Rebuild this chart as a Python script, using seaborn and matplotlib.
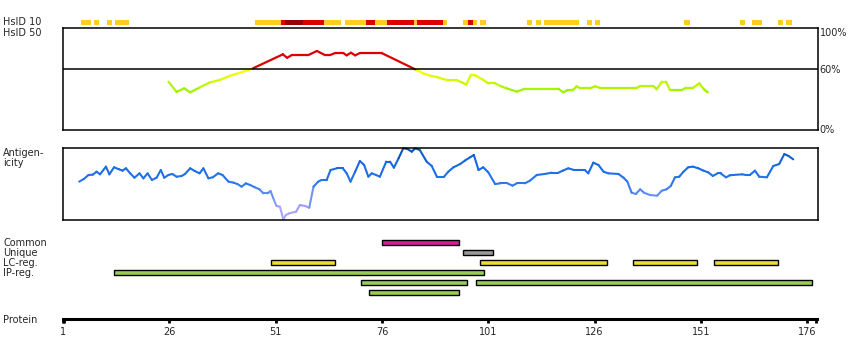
import numpy as np
import pandas as pd
import matplotlib
matplotlib.use('Agg')
import matplotlib.pyplot as plt
from matplotlib.colors import LinearSegmentedColormap, to_hex
import seaborn as sns

sns.set_style('white')
plt.rcParams['font.family'] = ['DejaVu Sans']

W, H = 850, 360

# HsID 10 track (residue ranges and level)
hs_start = [5.2, 8.3, 11.4, 13.2, 46.1, 52.3, 53.2, 57.4, 62.4, 67.3, 72.3, 74.4, 77.2,
            83.5, 84.2, 90.4, 95.1, 96.2, 97.4, 99.1, 110.1, 112.2, 114.1, 124.2, 126.1,
            147.0, 160.2, 163.0, 169.1, 171.0]
hs_end = [7.6, 9.5, 12.5, 16.5, 52.3, 53.2, 57.4, 62.4, 66.4, 72.3, 74.4, 77.2, 83.5,
          84.2, 90.4, 91.3, 96.2, 97.4, 98.3, 100.5, 111.3, 113.4, 122.3, 125.4, 127.3,
          148.4, 161.4, 165.4, 170.3, 172.4]
hs_level = ['o', 'o', 'o', 'o', 'o', 'r', 'd', 'r', 'o', 'o', 'r', 'o', 'r',
            'o', 'r', 'o', 'o', 'r', 'o', 'o', 'o', 'o', 'o', 'o', 'o',
            'o', 'o', 'o', 'o', 'o']

# HsID 50 identity curve (%)
id_pos = [25.8, 27.7, 29.5, 30.9, 33.2, 35.6, 37.9, 40.3, 42.6, 44.6, 45.7, 52.7, 53.7,
          54.8, 58.7, 60.7, 62.6, 63.8, 65.0, 66.9, 67.7, 68.7, 69.7, 70.8, 75.9, 83.8,
          85.7, 87.3, 88.9, 90.4, 91.6, 93.6, 94.8, 95.8, 96.9, 97.9, 99.5, 101.0, 102.6,
          103.8, 105.3, 107.7, 109.6, 117.5, 118.6, 119.6, 120.8, 121.8, 122.6, 124.9,
          126.1, 127.3, 135.9, 136.7, 139.8, 140.6, 141.8, 142.8, 143.7, 146.5, 147.5,
          149.2, 150.6, 151.7, 152.6]
id_val = [47.5, 37.4, 41.0, 37.0, 42.0, 46.9, 49.2, 53.4, 56.3, 59.0, 60.7, 74.4, 71.0,
          73.7, 73.7, 77.7, 73.7, 73.7, 75.7, 75.7, 73.4, 76.0, 73.4, 75.7, 75.7, 59.7,
          55.7, 53.4, 52.1, 50.1, 48.9, 48.9, 46.9, 44.5, 54.1, 53.8, 50.1, 45.9, 45.9,
          43.3, 41.0, 37.7, 40.6, 40.6, 37.0, 39.0, 39.0, 43.0, 41.0, 41.0,
          43.0, 41.3, 41.3, 43.3, 43.3, 40.0, 47.5, 47.5, 39.3, 39.3, 41.6,
          41.6, 45.9, 40.0, 37.0]

# antigenicity (relative, 0..1)
ag_pos = [4.8, 5.9, 7.0, 8.0, 8.9, 9.7, 11.1, 11.9, 13.0, 14.2, 15.0, 15.8, 16.8, 17.8,
          19.0, 19.9, 20.9, 21.9, 23.0, 24.0, 24.8, 25.8, 26.7, 27.7, 28.9, 29.7, 30.9,
          32.0, 33.1, 34.0, 35.2, 36.2, 37.5, 38.5, 39.9, 41.1, 42.0, 43.0, 44.0, 45.0,
          46.1, 47.2, 48.1, 49.1, 49.8, 50.6, 51.2, 52.0, 52.8, 53.4, 54.2, 55.8, 56.7,
          57.9, 58.9, 59.9, 61.0, 61.8, 63.0, 63.9, 65.4, 66.8, 67.7, 68.6, 69.7, 70.8,
          71.8, 72.8, 73.6, 74.6, 75.5, 77.0, 77.9, 78.8, 79.9, 81.0, 82.0, 83.0, 83.8,
          84.9, 86.5, 87.7, 88.9, 90.6, 91.6, 92.8, 94.4, 95.5, 96.7, 97.6, 98.7, 99.8,
          101.0, 102.6, 103.8, 105.5, 106.7, 107.7, 109.6, 110.8, 112.4, 114.3, 115.9,
          117.5, 118.5, 119.8, 121.2, 123.7, 124.5, 125.7, 126.9, 128.1, 129.2, 131.6,
          132.8, 133.7, 134.7, 135.7, 136.7, 137.6, 139.0, 140.7, 141.8, 142.9, 143.9,
          144.9, 145.9, 146.9, 148.0, 149.1, 150.4, 151.6, 152.7, 153.8, 154.9, 155.6,
          156.9, 157.8, 160.6, 161.6, 162.5, 163.7, 164.7, 166.5, 168.0, 169.4, 170.6,
          171.6, 172.7]
ag_val = [0.535, 0.572, 0.628, 0.632, 0.674, 0.637, 0.744, 0.637, 0.735, 0.707, 0.688,
          0.721, 0.651, 0.590, 0.651, 0.581, 0.651, 0.558, 0.590, 0.697, 0.590, 0.628,
          0.642, 0.604, 0.614, 0.642, 0.721, 0.683, 0.651, 0.721, 0.581, 0.595, 0.651,
          0.628, 0.535, 0.521, 0.502, 0.465, 0.511, 0.488, 0.456, 0.428, 0.372, 0.372,
          0.404, 0.279, 0.195, 0.186, 0.009, 0.070, 0.093, 0.116, 0.209, 0.195, 0.172,
          0.465, 0.535, 0.558, 0.558, 0.697, 0.721, 0.721, 0.651, 0.535, 0.674, 0.823,
          0.767, 0.604, 0.651, 0.628, 0.604, 0.814, 0.814, 0.730, 0.860, 1.0, 0.990,
          0.953, 1.0, 0.976, 0.814, 0.753, 0.604, 0.604, 0.674, 0.735, 0.781, 0.828,
          0.874, 0.907, 0.697, 0.735, 0.665, 0.502, 0.511, 0.511, 0.479, 0.511, 0.511,
          0.549, 0.628, 0.642, 0.660, 0.660, 0.688, 0.721, 0.697, 0.697, 0.651, 0.800,
          0.767, 0.674, 0.651, 0.642, 0.590, 0.535, 0.381, 0.363, 0.428, 0.381, 0.349,
          0.339, 0.409, 0.428, 0.474, 0.595, 0.604, 0.674, 0.735, 0.744, 0.721, 0.688,
          0.665, 0.614, 0.651, 0.651, 0.595, 0.624, 0.637, 0.628, 0.628, 0.688, 0.604,
          0.595, 0.753, 0.781, 0.920, 0.893, 0.846]

# feature regions
reg_kind = ['Common', 'Unique', 'LC', 'LC', 'LC', 'LC', 'IP', 'IP', 'IP', 'IP']
reg_start = [76, 95, 50, 99, 135, 154, 13, 71, 98, 73]
reg_end = [94, 102, 65, 129, 150, 169, 100, 96, 177, 94]
reg_row = [0, 1, 2, 2, 2, 2, 3, 4, 4, 5]
row_labels = ['Common', 'Unique', 'LC-reg.', 'IP-reg.']
reg_colors = {'Common': '#cc2299', 'Unique': '#999999', 'LC': '#eedd33', 'IP': '#99cc55'}

tick_pos = [1, 26, 51, 76, 101, 126, 151, 176]

PX0, PXR = 63.0, 4.253  # pixel of residue 1, pixels per residue


def res(px):
    return 1 + (px - PX0) / PXR


def rect(l, t, r, b):
    return [l / W, 1 - b / H, (r - l) / W, (b - t) / H]


def ftext(x, y, s, **kw):
    fig.text(x / W, 1 - y / H, s, fontsize=7, va='center', **kw)


fig = plt.figure(figsize=(8.5, 3.6), dpi=100)

L, R = 62.5, 818.0

# HsID 10 track
ax_hs = fig.add_axes(rect(L, 20, R, 24.7))
hs_cols = {'o': '#ffcc22', 'r': '#dd0000', 'd': '#990000'}
ax_hs.barh([0] * len(hs_start), np.subtract(hs_end, hs_start), left=hs_start, height=1,
           color=[hs_cols[k] for k in hs_level], linewidth=0)
ax_hs.set_xlim(res(L), res(R))
ax_hs.set_ylim(-0.5, 0.5)
ax_hs.axis('off')

# identity panel
ax_id = fig.add_axes(rect(L, 28.3, R, 130))
id_cmap = LinearSegmentedColormap.from_list('id', [(0, '#88ee00'), (0.4, '#c4f800'), (1, '#ffff00')])
seg = []
for i in range(len(id_pos) - 1):
    m = (id_val[i] + id_val[i + 1]) / 2
    c = '#dd0000' if m >= 60 else to_hex(id_cmap(np.clip((m - 35) / 25, 0, 1)))
    seg.append(pd.DataFrame({'pos': id_pos[i:i + 2], 'val': id_val[i:i + 2], 'seg': i, 'c': c}))
df_id = pd.concat(seg)
sns.lineplot(data=df_id, x='pos', y='val', units='seg', estimator=None, hue='c',
             palette={c: c for c in df_id['c'].unique()}, linewidth=1.6, legend=False, ax=ax_id)
ax_id.axhline(60, color='black', linewidth=1.1)
ax_id.set_xlim(res(L), res(R))
ax_id.set_ylim(0, 100)

# antigenicity panel
ax_ag = fig.add_axes(rect(L, 148.3, R, 220))
ag_cmap = LinearSegmentedColormap.from_list('ag', [(0, '#b4aaff'), (0.2, '#9c9cfc'), (0.35, '#6690f2'),
                                                   (0.5, '#2e78ec'), (0.65, '#1f6fe8'), (0.85, '#1464d8'),
                                                   (1, '#0050a8')])
seg = []
for i in range(len(ag_pos) - 1):
    m = (ag_val[i] + ag_val[i + 1]) / 2
    seg.append(pd.DataFrame({'pos': ag_pos[i:i + 2], 'val': ag_val[i:i + 2], 'seg': i,
                             'c': to_hex(ag_cmap(m))}))
df_ag = pd.concat(seg)
sns.lineplot(data=df_ag, x='pos', y='val', units='seg', estimator=None, hue='c',
             palette={c: c for c in df_ag['c'].unique()}, linewidth=1.5, legend=False, ax=ax_ag)
for ln in ax_ag.lines:
    ln.set_clip_on(False)
ax_ag.set_xlim(res(L), res(R))
ax_ag.set_ylim(0, 1)

for ax in (ax_id, ax_ag):
    ax.set_xticks([])
    ax.set_yticks([])
    ax.set_xlabel('')
    ax.set_ylabel('')
    for sp in ax.spines.values():
        sp.set_visible(True)
        sp.set_color('black')
        sp.set_linewidth(1.1)

# regions
ax_rg = fig.add_axes(rect(L, 237.5, R, 297.5))
ax_rg.barh(np.array(reg_row) + 0.5, np.subtract(reg_end, reg_start), left=reg_start, height=0.42,
           color=[reg_colors[k] for k in reg_kind], edgecolor='black', linewidth=1.0)
ax_rg.set_xlim(res(L), res(R))
ax_rg.set_ylim(6, 0)
ax_rg.axis('off')

# protein axis
ax_p = fig.add_axes(rect(62.7, 300, 817.3, 319.3))
ax_p.set_xlim(res(62.7), res(817.3))
ax_p.set_yticks([])
for s in ('left', 'right', 'top'):
    ax_p.spines[s].set_visible(False)
ax_p.spines['bottom'].set_linewidth(2.2)
ax_p.spines['bottom'].set_color('black')
ax_p.set_xticks(tick_pos)
ax_p.set_xticklabels([str(t) for t in tick_pos], fontsize=7)
ax_p.set_xticks([res(62.7) + 0.3, res(817.3) - 0.3], minor=True)
ax_p.tick_params(axis='x', which='both', direction='out', length=3.2, width=2.0, color='black',
                 pad=2, bottom=True)
ax_p.patch.set_visible(False)

# labels
ftext(3, 22.3, 'HsID 10')
ftext(3, 32.7, 'HsID 50')
ftext(3, 153.3, 'Antigen-')
ftext(3, 163.3, 'icity')
for i, lab in enumerate(row_labels):
    ftext(3, 243.3 + 10 * i, lab)
ftext(3, 320, 'Protein')
ftext(819.5, 32.7, '100%')
ftext(819.5, 70.3, '60%')
ftext(819.5, 129.5, '0%')

fig.savefig('out.png', dpi=100)
